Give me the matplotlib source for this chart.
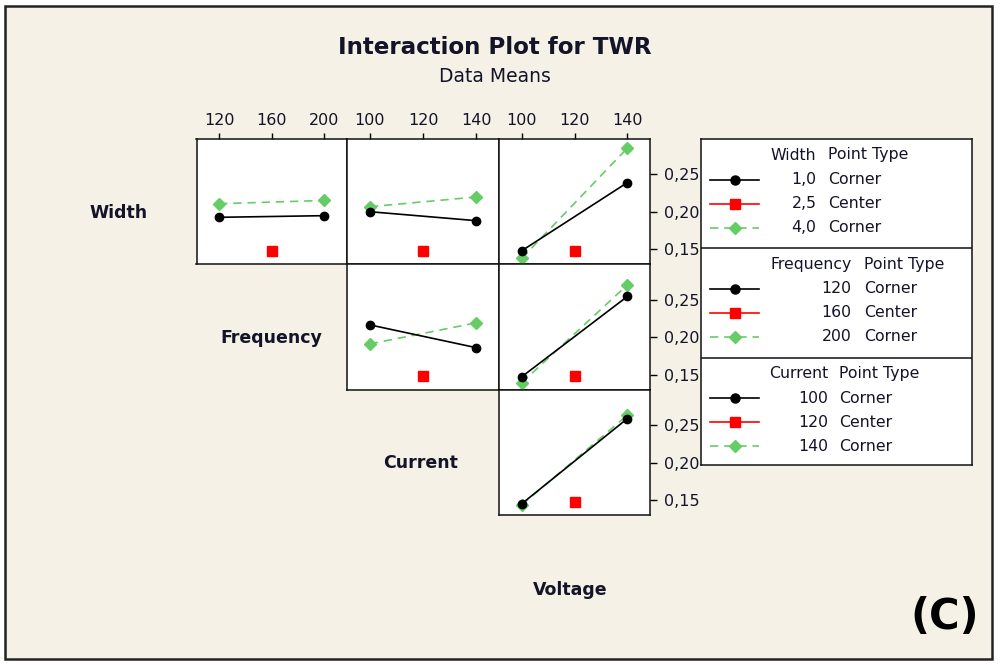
import matplotlib
matplotlib.use('Agg')
import matplotlib.pyplot as plt
from matplotlib.lines import Line2D
from matplotlib.patches import Rectangle

# ---------------- data ----------------
freq_levels = [120, 160, 200]
current_levels = [100, 120, 140]
voltage_levels = [100, 120, 140]

width_labels = ['1,0', '2,5', '4,0']
freq_labels = ['120', '160', '200']
current_labels = ['100', '120', '140']
point_types = ['Corner', 'Center', 'Corner']

center_mean = 0.148

# Row factor: Width (low=1,0 / high=4,0)
width_low_vs_freq = [0.1925, 0.1947]
width_high_vs_freq = [0.2107, 0.2151]
width_low_vs_current = [0.2000, 0.1880]
width_high_vs_current = [0.2067, 0.2197]
width_low_vs_voltage = [0.1477, 0.2389]
width_high_vs_voltage = [0.1375, 0.2851]

# Row factor: Frequency (low=120 / high=200)
freq_low_vs_current = [0.2165, 0.1860]
freq_high_vs_current = [0.1910, 0.2192]
freq_low_vs_voltage = [0.1470, 0.2545]
freq_high_vs_voltage = [0.1390, 0.2700]

# Row factor: Current (low=100 / high=140)
current_low_vs_voltage = [0.1450, 0.2590]
current_high_vs_voltage = [0.1435, 0.2635]

y_ticks = [0.15, 0.20, 0.25]
y_tick_labels = ['0,15', '0,20', '0,25']

# ---------------- style ----------------
W, H = 1000, 665
BG = '#F5F1E7'
GREEN = '#66CC66'
RED = '#FF0000'
BLACK = '#000000'
TXT = '#141428'
plt.rcParams['font.family'] = ['DejaVu Sans']

fig = plt.figure(figsize=(W / 100, H / 100), dpi=100, facecolor='white')


def rect(x0, y0, x1, y1):
    return [x0 / W, 1 - y1 / H, (x1 - x0) / W, (y1 - y0) / H]


# outer frame
fig.patches.append(Rectangle((5 / W, 1 - 659 / H), 987 / W, 653 / H,
                             transform=fig.transFigure, facecolor=BG,
                             edgecolor='#222222', linewidth=1.8, zorder=-5))

fig.text(495 / W, 1 - 47 / H, 'Interaction Plot for TWR', ha='center', va='center',
         fontsize=16.6, fontweight='bold', color=TXT)
fig.text(495 / W, 1 - 76 / H, 'Data Means', ha='center', va='center',
         fontsize=13.5, color=TXT)

cols = [(196.5, 347), (347, 499), (499, 650)]
rows = [(138.5, 264), (264, 389.5), (389.5, 515)]
col_levels = [freq_levels, current_levels, voltage_levels]
col_ticklabels = [freq_labels, current_labels, current_labels]

panels = {
    (0, 0): (width_low_vs_freq, width_high_vs_freq),
    (0, 1): (width_low_vs_current, width_high_vs_current),
    (0, 2): (width_low_vs_voltage, width_high_vs_voltage),
    (1, 1): (freq_low_vs_current, freq_high_vs_current),
    (1, 2): (freq_low_vs_voltage, freq_high_vs_voltage),
    (2, 2): (current_low_vs_voltage, current_high_vs_voltage),
}

for (r, c), (low, high) in panels.items():
    x0, x1 = cols[c]
    y0, y1 = rows[r]
    ax = fig.add_axes(rect(x0, y0, x1, y1))
    ax.set_facecolor('white')
    lv = col_levels[c]
    span = lv[-1] - lv[0]
    ax.set_xlim(lv[0] - 0.215 * span, lv[-1] + 0.215 * span)
    ax.set_ylim(0.130, 0.298)
    ends = [lv[0], lv[-1]]
    ax.plot(ends, low, color=BLACK, lw=1.2, marker='o', ms=6, zorder=4)
    ax.plot(ends, high, color=GREEN, lw=1.2, ls=(0, (5, 3.5)), marker='D',
            ms=5.8, mec=GREEN, zorder=3)
    ax.plot([lv[1]], [center_mean], ls='none', marker='s', ms=6.5, color=RED,
            zorder=5)
    for s in ax.spines.values():
        s.set_linewidth(1.1)
        s.set_color('#111111')
    # x ticks on top of the first row only
    if r == 0:
        ax.xaxis.tick_top()
        ax.set_xticks(lv)
        ax.set_xticklabels(col_ticklabels[c])
        ax.tick_params(axis='x', direction='out', length=4, width=1,
                       pad=3.5, labelsize=11.5, labelcolor=TXT)
    else:
        ax.set_xticks([])
    if c == 2:
        ax.yaxis.tick_right()
        ax.set_yticks(y_ticks)
        ax.set_yticklabels(y_tick_labels)
        ax.tick_params(axis='y', direction='out', length=5, width=1,
                       pad=5, labelsize=11.5, labelcolor=TXT)
    else:
        ax.set_yticks([])

# factor labels on the diagonal
factor_names = ['Width', 'Frequency', 'Current', 'Voltage']
label_pos = [(118.5, 213), (271, 338), (421, 463), (570, 590)]
for name, (lx, ly) in zip(factor_names, label_pos):
    fig.text(lx / W, 1 - ly / H, name, ha='center', va='center',
             fontsize=12.5, fontweight='bold', color=TXT)

# ---------------- legend ----------------
lx0, lx1, ly0, ly1 = 701, 972, 139, 465
lax = fig.add_axes(rect(lx0, ly0, lx1, ly1))
lax.set_xlim(lx0, lx1)
lax.set_ylim(ly1, ly0)
lax.set_facecolor('white')
lax.set_xticks([])
lax.set_yticks([])
for s in lax.spines.values():
    s.set_linewidth(1.1)
    s.set_color('#111111')

section_tops = [139, 248.3, 357.7]
sections = [
    ('Width', width_labels, 816.5, 828),
    ('Frequency', freq_labels, 851.5, 864),
    ('Current', current_labels, 828, 839),
]
styles = [
    dict(color=BLACK, ls='-', marker='o', ms=6.5),
    dict(color=RED, ls='-', marker='s', ms=7),
    dict(color=GREEN, ls=(0, (5, 3.5)), marker='D', ms=6.5),
]
for top in section_tops[1:]:
    lax.axhline(top, color='#111111', lw=1.1)

LFS = 11.3
for top, (name, levels, xr, xl) in zip(section_tops, sections):
    lax.text(xr, top + 16, name, ha='right', va='center', fontsize=LFS, color=TXT)
    lax.text(xl, top + 16, 'Point Type', ha='left', va='center', fontsize=LFS,
             color=TXT)
    for i, (lev, pt, st) in enumerate(zip(levels, point_types, styles)):
        yy = top + 40.5 + 24 * i
        lax.add_line(Line2D([710, 759], [yy, yy], color=st['color'],
                            ls=st['ls'], lw=1.2))
        lax.add_line(Line2D([734.5], [yy], color=st['color'], ls='none',
                            marker=st['marker'], ms=st['ms'], mec=st['color']))
        lax.text(xr, yy, lev, ha='right', va='center', fontsize=LFS, color=TXT)
        lax.text(xl, yy, pt, ha='left', va='center', fontsize=LFS, color=TXT)

fig.text(945 / W, 1 - 617 / H, '(C)', ha='center', va='center', fontsize=30,
         fontweight='bold', color='#000000')

fig.savefig('out.png', dpi=100, facecolor=fig.get_facecolor())
